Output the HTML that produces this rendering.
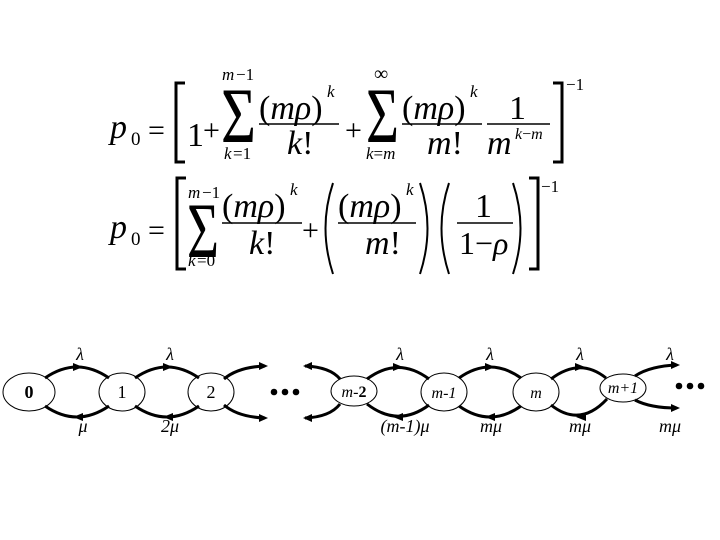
<!DOCTYPE html>
<html><head><meta charset="utf-8"><style>
html,body{margin:0;padding:0;background:#fff;}
svg{display:block;}
text{font-family:"Liberation Serif",serif;fill:#000;}
</style></head><body>
<svg width="720" height="540" viewBox="0 0 720 540" xmlns="http://www.w3.org/2000/svg">
<!-- Equation 1 -->
<g>
<text x="110" y="138" font-size="34" font-style="italic">p</text>
<text x="131" y="145" font-size="19">0</text>
<text x="148" y="140" font-size="30">=</text>
<path d="M185,83 L176,83 L176,162 L185,162" fill="none" stroke="#000" stroke-width="3"/>
<text x="187" y="146" font-size="34">1</text>
<text x="203" y="140" font-size="30">+</text>
<text x="221" y="142" font-size="78" textLength="35" lengthAdjust="spacingAndGlyphs">Σ</text>
<text x="222" y="80" font-size="17" font-style="italic">m</text><text x="236" y="80" font-size="17">−1</text>
<text x="224" y="159" font-size="17" font-style="italic">k</text><text x="233" y="159" font-size="17">=1</text>
<text x="259" y="119" font-size="34">(<tspan font-style="italic">mρ</tspan>)</text>
<text x="327" y="97" font-size="17" font-style="italic">k</text>
<line x1="259" y1="124" x2="339" y2="124" stroke="#000" stroke-width="1.5"/>
<text x="287" y="154" font-size="34" font-style="italic">k<tspan font-style="normal">!</tspan></text>
<text x="345" y="140" font-size="30">+</text>
<text x="366" y="142" font-size="78" textLength="33" lengthAdjust="spacingAndGlyphs">Σ</text>
<text x="374" y="80" font-size="20">∞</text>
<text x="366" y="159" font-size="17" font-style="italic">k<tspan font-style="normal">=</tspan>m</text>
<text x="402" y="119" font-size="34">(<tspan font-style="italic">mρ</tspan>)</text>
<text x="470" y="97" font-size="17" font-style="italic">k</text>
<line x1="402" y1="124" x2="482" y2="124" stroke="#000" stroke-width="1.5"/>
<text x="427" y="154" font-size="34" font-style="italic">m<tspan font-style="normal">!</tspan></text>
<text x="509" y="119" font-size="34">1</text>
<line x1="487" y1="124" x2="550" y2="124" stroke="#000" stroke-width="1.5"/>
<text x="487" y="154" font-size="34" font-style="italic">m</text>
<text x="515" y="139" font-size="16" font-style="italic">k<tspan font-style="normal">−</tspan>m</text>
<path d="M553,83 L562,83 L562,162 L553,162" fill="none" stroke="#000" stroke-width="3"/>
<text x="566" y="90" font-size="17">−1</text>
</g>
<!-- Equation 2 -->
<g>
<text x="110" y="238" font-size="34" font-style="italic">p</text>
<text x="131" y="245" font-size="19">0</text>
<text x="148" y="240" font-size="30">=</text>
<path d="M186,178 L177,178 L177,269 L186,269" fill="none" stroke="#000" stroke-width="3"/>
<text x="187" y="257" font-size="78" textLength="32" lengthAdjust="spacingAndGlyphs">Σ</text>
<text x="188" y="198" font-size="17" font-style="italic">m</text><text x="202" y="198" font-size="17">−1</text>
<text x="188" y="266" font-size="17" font-style="italic">k</text><text x="197" y="266" font-size="17">=0</text>
<text x="222" y="217" font-size="34">(<tspan font-style="italic">mρ</tspan>)</text>
<text x="290" y="195" font-size="17" font-style="italic">k</text>
<line x1="222" y1="223" x2="302" y2="223" stroke="#000" stroke-width="1.5"/>
<text x="249" y="254" font-size="34" font-style="italic">k<tspan font-style="normal">!</tspan></text>
<text x="302" y="240" font-size="30">+</text>
<path d="M333,183 Q318,228 333,274" fill="none" stroke="#000" stroke-width="2"/>
<text x="338" y="217" font-size="34">(<tspan font-style="italic">mρ</tspan>)</text>
<text x="406" y="195" font-size="17" font-style="italic">k</text>
<line x1="338" y1="223" x2="416" y2="223" stroke="#000" stroke-width="1.5"/>
<text x="365" y="254" font-size="34" font-style="italic">m<tspan font-style="normal">!</tspan></text>
<path d="M420,183 Q435,228 420,274" fill="none" stroke="#000" stroke-width="2"/>
<path d="M449,183 Q434,228 449,274" fill="none" stroke="#000" stroke-width="2"/>
<text x="475" y="217" font-size="34">1</text>
<line x1="457" y1="223" x2="513" y2="223" stroke="#000" stroke-width="1.5"/>
<text x="459" y="254" font-size="32">1−<tspan font-style="italic">ρ</tspan></text>
<path d="M513,183 Q528,228 513,274" fill="none" stroke="#000" stroke-width="2"/>
<path d="M529,178 L538,178 L538,269 L529,269" fill="none" stroke="#000" stroke-width="3"/>
<text x="541" y="192" font-size="17">−1</text>
</g>
<!-- Diagram -->
<g fill="none" stroke="#000" stroke-width="1">
<ellipse cx="29" cy="392" rx="26" ry="19"/>
<ellipse cx="122" cy="392" rx="23" ry="19"/>
<ellipse cx="211" cy="392" rx="23" ry="19"/>
<ellipse cx="354" cy="391" rx="23" ry="15"/>
<ellipse cx="444" cy="392" rx="23" ry="19"/>
<ellipse cx="536" cy="392" rx="23" ry="19"/>
<ellipse cx="623" cy="388" rx="23" ry="14"/>
</g>
<g fill="none" stroke="#000" stroke-width="3">
<path d="M45,378 Q77,356 109,378"/><path d="M45,406 Q77,428 109,406"/>
<path d="M135,378 Q167,356 199,378"/><path d="M135,406 Q167,428 199,406"/>
<path d="M224,379 Q238,367 265,366"/><path d="M224,405 Q238,417 265,418"/>
<path d="M305,366 Q330,367 340,379"/><path d="M305,418 Q330,417 340,404"/>
<path d="M367,379 Q398,356 429,379"/><path d="M367,404 Q398,428 429,405"/>
<path d="M459,378 Q490,356 521,378"/><path d="M459,406 Q490,428 521,406"/>
<path d="M551,379 Q580,357 606,378"/><path d="M551,405 Q580,428 607,399"/>
<path d="M635,376 Q650,366 677,365"/><path d="M635,400 Q650,408 677,408"/>
</g>
<g fill="#000">
<path d="M73,363 L83,367 L73,371 z"/><path d="M83,413 L73,417 L83,421 z"/>
<path d="M163,363 L173,367 L163,371 z"/><path d="M173,413 L163,417 L173,421 z"/>
<path d="M259,362 L268,366 L259,370 z"/><path d="M259,414 L268,418 L259,422 z"/>
<path d="M312,362 L303,366 L312,370 z"/><path d="M312,414 L303,418 L312,422 z"/>
<path d="M393,363 L403,367 L393,371 z"/><path d="M403,413 L393,417 L403,421 z"/>
<path d="M485,363 L495,367 L485,371 z"/><path d="M495,413 L485,417 L495,421 z"/>
<path d="M575,363 L585,367 L575,371 z"/><path d="M586,413 L576,417 L586,421 z"/>
<path d="M671,361 L680,365 L671,369 z"/><path d="M671,404 L680,408 L671,412 z"/>
<circle cx="274" cy="392" r="3.3"/><circle cx="285" cy="392" r="3.3"/><circle cx="296" cy="392" r="3.3"/>
<circle cx="679" cy="386" r="3.3"/><circle cx="690" cy="386" r="3.3"/><circle cx="701" cy="386" r="3.3"/>
</g>
<g font-size="18">
<text x="29" y="398" text-anchor="middle" font-weight="bold">0</text>
<text x="122" y="398" text-anchor="middle">1</text>
<text x="211" y="398" text-anchor="middle">2</text>
<text x="354" y="397" text-anchor="middle" font-size="16"><tspan font-style="italic">m</tspan>-<tspan font-weight="bold">2</tspan></text>
<text x="444" y="398" text-anchor="middle" font-size="16" font-style="italic">m-1</text>
<text x="536" y="398" text-anchor="middle" font-size="16" font-style="italic">m</text>
<text x="623" y="393" text-anchor="middle" font-size="16" font-style="italic">m+1</text>
</g>
<g font-size="18" font-style="italic" text-anchor="middle">
<text x="80" y="360">λ</text><text x="170" y="360">λ</text><text x="400" y="360">λ</text>
<text x="490" y="360">λ</text><text x="580" y="360">λ</text><text x="670" y="360">λ</text>
<text x="83" y="432">μ</text><text x="170" y="432">2μ</text><text x="405" y="432">(m-1)μ</text>
<text x="491" y="432">mμ</text><text x="580" y="432">mμ</text><text x="670" y="432">mμ</text>
</g>
</svg>
</body></html>
